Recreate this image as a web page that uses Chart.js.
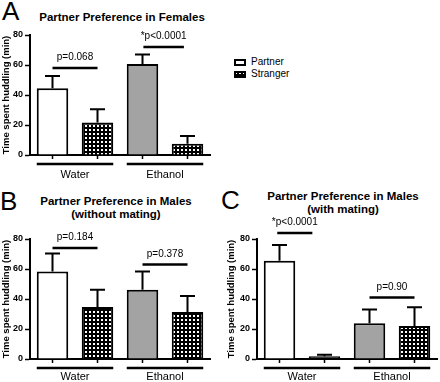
<!DOCTYPE html>
<html><head><meta charset="utf-8">
<script src="https://cdn.jsdelivr.net/npm/chart.js@4"></script>
<style>
body{margin:0;background:#fff;}
#wrap{position:relative;width:440px;height:382px;overflow:hidden;font-family:"Liberation Sans",Arial,sans-serif;color:#000;}
#wrap canvas{position:absolute;}
.t{position:absolute;text-align:center;font-weight:bold;font-size:11.5px;line-height:13px;white-space:nowrap;}
.L{position:absolute;font-size:26px;line-height:26px;}
.lt{position:absolute;font-size:10px;line-height:12px;white-space:nowrap;}
</style></head><body>
<div id="wrap">
  <div class="L" style="left:2px;top:-2px;">A</div>
  <div class="L" style="left:0px;top:188px;">B</div>
  <div class="L" style="left:221px;top:187px;">C</div>
  <div class="t" style="left:22px;width:200px;top:11px;">Partner Preference in Females</div>
  <div class="t" style="left:16px;width:200px;top:195px;">Partner Preference in Males<br>(without mating)</div>
  <div class="t" style="left:243px;width:200px;top:190px;">Partner Preference in Males<br>(with mating)</div>
  <canvas id="swP" width="12" height="7" style="left:234px;top:59px;"></canvas>
  <canvas id="swS" width="12" height="7" style="left:234px;top:71px;"></canvas>
  <div class="lt" id="lgP" style="left:251px;top:56px;"></div>
  <div class="lt" id="lgS" style="left:251px;top:68px;"></div>
  <canvas id="cA" width="220" height="190" style="left:0;top:0;"></canvas>
  <canvas id="cB" width="220" height="192" style="left:0;top:190px;"></canvas>
  <canvas id="cC" width="220" height="192" style="left:220px;top:190px;"></canvas>
</div>
<script>
// ---------- data ----------
const groups = ['Water', 'Ethanol'];
const seriesNames = ['Partner', 'Stranger'];
const yTicks = [0, 20, 40, 60, 80];
const yTitle = 'Time spent huddling (min)';

// Panel A: females
const femPartner = [44.5, 60.6];
const femPartnerErr = [8.1, 6.4];
const femStranger = [21.6, 7.5];
const femStrangerErr = [8.9, 5.1];
const femSigText = ['p=0.068', '*p<0.0001'];
const femSigY = [58, 72];
const femSigSpan = [[0, 1], [0.02, 0.92]];

// Panel B: males without mating
const noMatePartner = [58.3, 46.2];
const noMatePartnerErr = [12.1, 12.1];
const noMateStranger = [34.7, 31.3];
const noMateStrangerErr = [11.5, 10.7];
const noMateSigText = ['p=0.184', 'p=0.378'];
const noMateSigY = [74, 63];
const noMateSigSpan = [[0, 1], [0, 1]];

// Panel C: males with mating
const matePartner = [65.5, 23.8];
const matePartnerErr = [10.5, 9.2];
const mateStranger = [1.8, 22.0];
const mateStrangerErr = [1.0, 12.5];
const mateSigText = ['*p<0.0001', 'p=0.90'];
const mateSigY = [84, 41];
const mateSigSpan = [[-0.05, 0.73], [0, 1]];

// ---------- styles ----------
const FAM = '"Liberation Sans", Arial, sans-serif';
const GRAY = '#a3a3a3';
function dotPattern(ctx) {
  const c = document.createElement('canvas');
  c.width = 4; c.height = 4;
  const g = c.getContext('2d');
  g.fillStyle = '#000'; g.fillRect(0, 0, 4, 4);
  g.fillStyle = '#fff';
  g.fillRect(1, 1, 2, 2);
  return ctx.createPattern(c, 'repeat');
}

// legend
document.getElementById('lgP').textContent = seriesNames[0];
document.getElementById('lgS').textContent = seriesNames[1];
(function () {
  const p = document.getElementById('swP').getContext('2d');
  p.fillStyle = '#000'; p.fillRect(0, 0, 12, 7); p.fillStyle = '#fff'; p.fillRect(2, 2, 8, 3);
  const s = document.getElementById('swS').getContext('2d');
  s.fillStyle = '#000'; s.fillRect(0, 0, 12, 7); s.fillStyle = dotPattern(s); s.fillRect(2, 2, 8, 3);
})();

const annot = {
  id: 'annot',
  afterDatasetsDraw(chart, args, opts) {
    const ctx = chart.ctx, ys = chart.scales.y, area = chart.chartArea;
    const m0 = chart.getDatasetMeta(0), m1 = chart.getDatasetMeta(1);
    ctx.save();
    ctx.strokeStyle = '#000'; ctx.fillStyle = '#000';
    chart.data.datasets.forEach((ds, di) => {
      const meta = chart.getDatasetMeta(di);
      meta.data.forEach((bar, i) => {
        const v = ds.data[i], e = ds.err[i];
        const y1 = ys.getPixelForValue(v), y2 = ys.getPixelForValue(v + e);
        ctx.lineWidth = 2;
        ctx.beginPath();
        ctx.moveTo(bar.x, y1); ctx.lineTo(bar.x, y2);
        ctx.moveTo(bar.x - 7.5, y2); ctx.lineTo(bar.x + 7.5, y2);
        ctx.stroke();
        ctx.lineWidth = 1.5;
        ctx.beginPath();
        ctx.moveTo(bar.x, area.bottom); ctx.lineTo(bar.x, area.bottom + 4);
        ctx.stroke();
      });
    });
    // group underlines + significance
    m0.data.forEach((b0, i) => {
      const b1 = m1.data[i];
      ctx.lineWidth = 2.5;
      ctx.beginPath();
      const gy = area.bottom + 9;
      ctx.moveTo(b0.x - b0.width / 2, gy); ctx.lineTo(b1.x + b1.width / 2, gy);
      ctx.stroke();
      const span = opts.span[i];
      const sx0 = b0.x + (b1.x - b0.x) * span[0];
      const sx1 = b0.x + (b1.x - b0.x) * span[1];
      const sy = ys.getPixelForValue(opts.y[i]);
      ctx.beginPath(); ctx.moveTo(sx0, sy); ctx.lineTo(sx1, sy); ctx.stroke();
      ctx.font = '10px ' + FAM;
      ctx.textAlign = 'center'; ctx.textBaseline = 'alphabetic';
      ctx.fillText(opts.text[i], (sx0 + sx1) / 2, sy - 8);
    });
    ctx.restore();
  }
};

function makeChart(id, partner, partnerErr, stranger, strangerErr, sigText, sigY, sigSpan, lay) {
  const el = document.getElementById(id);
  const ctx = el.getContext('2d');
  const pat = dotPattern(ctx);
  return new Chart(el, {
    type: 'bar',
    data: {
      labels: groups,
      datasets: [
        { label: seriesNames[0], data: partner, err: partnerErr, backgroundColor: ['#fff', GRAY],
          borderColor: '#000', borderWidth: 2, barPercentage: 0.7, categoryPercentage: 1.0 },
        { label: seriesNames[1], data: stranger, err: strangerErr, backgroundColor: [pat, pat],
          borderColor: '#000', borderWidth: 2, barPercentage: 0.7, categoryPercentage: 1.0 }
      ]
    },
    options: {
      responsive: false, animation: false, devicePixelRatio: 1,
      layout: { padding: { top: lay.top, right: lay.right, left: 0, bottom: 0 } },
      plugins: { legend: { display: false }, tooltip: { enabled: false },
        annot: { text: sigText, y: sigY, span: sigSpan } },
      scales: {
        x: {
          offset: true,
          afterFit: s => { s.height = lay.xh; },
          grid: { display: false, drawTicks: false },
          border: { display: true, color: '#000', width: 2 },
          ticks: { color: '#000', font: { family: FAM, size: 11 }, padding: lay.xpad }
        },
        y: {
          min: 0, max: 80,
          afterBuildTicks: s => { s.ticks = yTicks.map(v => ({ value: v })); },
          afterFit: s => { s.width = lay.yw; },
          ticks: { color: '#000', font: { family: FAM, size: 9, weight: 'bold' }, padding: 2 },
          grid: { display: true, drawOnChartArea: false, drawTicks: true, tickLength: 5, tickWidth: 1.5, tickColor: '#000', color: '#000' },
          border: { display: true, color: '#000', width: 2 },
          title: { display: true, text: yTitle, color: '#000', font: { family: FAM, size: 9.5, weight: 'bold' }, padding: { top: lay.tpad, bottom: 0 } }
        }
      }
    },
    plugins: [annot]
  });
}

makeChart('cA', femPartner, femPartnerErr, femStranger, femStrangerErr, femSigText, femSigY, femSigSpan,
  { top: 35, right: 10, xh: 35, yw: 30, xpad: 13, tpad: 1 });
makeChart('cB', noMatePartner, noMatePartnerErr, noMateStranger, noMateStrangerErr, noMateSigText, noMateSigY, noMateSigSpan,
  { top: 49, right: 10, xh: 23, yw: 30, xpad: 11, tpad: 1 });
makeChart('cC', matePartner, matePartnerErr, mateStranger, mateStrangerErr, mateSigText, mateSigY, mateSigSpan,
  { top: 49, right: 3, xh: 23, yw: 37, xpad: 11, tpad: 6 });
</script>
</body></html>
